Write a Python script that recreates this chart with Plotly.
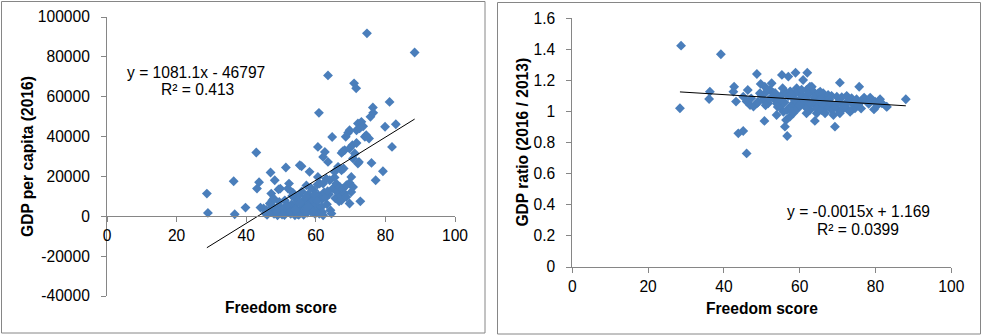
import plotly.graph_objects as go

# ---------------- data ----------------
score_a = [28.7, 29.0, 36.4, 36.7, 39.8, 42.9, 43.7, 43.1, 44.1, 45.0, 45.5, 46.0, 46.5, 47.0, 47.2,
           47.5, 46.8, 47.9, 48.2, 48.0, 48.5, 49.3, 49.8, 49.0, 49.6, 50.0, 50.6, 51.1, 51.4, 51.0,
           51.5, 52.0, 52.3, 52.5, 52.8, 53.0, 53.5, 53.8, 54.0, 54.3, 54.6, 55.0, 55.4, 55.9, 55.2,
           55.6, 56.0, 56.2, 56.5, 56.8, 57.0, 57.3, 57.5, 57.8, 58.0, 58.2, 58.5, 58.8, 59.0, 59.2,
           59.5, 59.8, 60.0, 60.2, 60.5, 60.6, 60.6, 60.9, 60.8, 61.1, 61.3, 61.6, 61.8, 62.1, 62.1,
           62.1, 62.4, 62.6, 63.0, 63.2, 63.5, 63.5, 63.8, 64.0, 64.2, 64.5, 64.7, 64.9, 65.4, 65.4,
           65.6, 65.9, 66.2, 66.4, 66.7, 66.9, 67.2, 67.4, 67.4, 67.4, 67.8, 67.8, 68.0, 68.3, 68.3,
           68.6, 68.8, 68.8, 69.3, 69.7, 69.7, 69.7, 69.7, 70.2, 70.2, 70.5, 70.7, 70.7, 71.0, 71.2,
           71.6, 71.7, 71.7, 72.1, 72.1, 72.4, 72.6, 72.8, 73.1, 73.6, 74.1, 74.5, 74.7, 75.3, 75.7,
           76.0, 76.4, 76.5, 77.2, 79.3, 79.9, 81.2, 81.9, 83.0, 88.4,
           45.8, 46.3, 47.6, 48.8, 49.5, 50.3, 51.8, 52.6, 53.2, 53.9, 54.8, 55.5, 56.4, 57.2, 58.3,
           59.1, 59.7, 60.4, 61.0, 61.9, 62.8, 63.4, 58.6, 57.7, 56.9, 55.1, 54.2, 53.4]
gdp_2016 = [11400, 1700, 17600, 1000, 4350, 32000, 17100, 13900, 4350, 3900, 1500, 800, 2500, 22000, 11400,
            8000, 6400, 8900, 18100, 1200, 3000, 13500, 13900, 500, 4700, 1800, 3900, 8000, 24500, 600,
            2000, 13900, 16400, 4500, 1200, 6000, 2800, 9500, 500, 4000, 7000, 1500, 25600, 25100, 10500,
            3000, 12500, 5500, 800, 8500, 3500, 15500, 1800, 11000, 6500, 22300, 2500, 9000, 4500, 8000,
            13000, 1200, 6000, 3900, 16000, 34800, 19700, 51900, 10500, 16400, 2500, 4700, 8500, 500, 16400,
            29800, 12000, 32300, 18900, 6000, 27300, 70700, 11000, 18100, 3000, 1350, 39800, 14000, 19500, 22300,
            9000, 16400, 12000, 24800, 7500, 14700, 10500, 23100, 31800, 8000, 32700, 13900, 24000, 33200, 11400,
            39900, 15600, 9700, 41900, 43200, 34000, 16700, 6400, 19700, 12200, 35700, 29000, 14700, 66700, 31500,
            64200, 36800, 43200, 46600, 26500, 27300, 44100, 7500, 47400, 45200, 39900, 40700, 91800, 39000, 49900,
            26800, 54600, 51900, 18100, 22600, 44900, 57400, 34800, 46200, 82200,
            3200, 1800, 5200, 2400, 7200, 900, 5800, 2200, 10200, 3400, 1100, 6800, 2600, 9800, 4200,
            2000, 10800, 7600, 1300, 2100, 9300, 12600, 14200, 4800, 2200, 700, 3300, 11800]

score_b = [28.7, 28.4, 39.2, 36.3, 36.1, 42.7, 42.5, 43.2, 46.3, 45.1, 46.0, 46.9, 47.8, 48.7, 43.8,
           45.1, 46.0, 48.7, 49.7, 50.8, 51.3, 49.5, 52.2, 52.6, 50.4, 51.7, 53.0, 53.9, 55.3, 56.1,
           50.7, 55.3, 57.0, 58.9, 62.0, 60.9, 54.8, 55.7, 56.6, 53.9, 56.4, 56.1, 56.7, 57.4, 58.3,
           60.1, 59.2, 61.0, 61.8, 63.2, 64.0, 65.4, 66.2, 67.1, 60.1, 61.4, 62.7, 64.0, 65.4, 66.7,
           59.2, 61.8, 64.5, 64.0, 70.6, 75.7, 88.0, 69.3, 62.7, 63.6, 64.9, 66.2, 67.5, 68.4, 69.8,
           71.1, 72.4, 73.7, 75.0, 76.4, 77.7, 79.0, 79.9, 81.2, 81.7, 82.9, 79.6, 75.7, 61.8, 63.2,
           64.5, 65.8, 67.1, 68.4, 69.8, 71.1, 72.4, 73.7, 74.6, 66.7, 68.9, 70.6, 73.3,
           47.2, 48.9, 50.0, 51.0, 52.0, 53.0, 54.0, 54.5, 55.0, 56.0, 57.0, 57.8, 58.5, 59.0, 59.6,
           60.4, 61.2, 62.2, 63.0, 57.5, 58.0, 59.5, 60.5, 61.5, 62.5, 55.5, 54.2, 57.8, 58.8, 59.9,
           63.8, 65.0, 66.0, 67.8, 69.0, 70.2, 71.5, 72.8, 74.0, 75.4, 76.8, 78.2, 80.5, 83.0, 77.0,
           81.0, 78.6, 76.2, 72.0, 68.0, 65.5, 53.5, 51.5, 49.0]
gdp_ratio = [1.424, 1.021, 1.369, 1.128, 1.081, 1.160, 1.128, 1.064, 1.139, 1.096, 1.064, 1.042, 1.032, 1.053, 0.860,
             0.875, 0.731, 1.242, 1.178, 1.160, 1.128, 1.118, 1.139, 1.182, 1.075, 1.053, 1.096, 1.064, 1.107, 1.128,
             0.940, 1.236, 1.225, 1.250, 1.250, 1.203, 1.032, 0.999, 1.010, 0.978, 0.946, 0.903, 0.843, 0.967, 0.989,
             1.118, 1.150, 1.096, 1.139, 1.160, 1.118, 1.128, 1.096, 1.075, 1.053, 1.032, 1.010, 1.042, 1.021, 1.032,
             1.032, 0.989, 0.989, 0.940, 1.186, 1.160, 1.079, 0.903, 1.160, 1.128, 1.118, 1.118, 1.107, 1.101, 1.096,
             1.092, 1.101, 1.086, 1.079, 1.070, 1.064, 1.070, 1.064, 1.079, 1.053, 1.032, 1.014, 1.053, 1.032, 1.053,
             1.021, 1.010, 1.032, 1.010, 1.021, 1.010, 1.021, 1.010, 1.021, 0.989, 0.978, 0.989, 0.999,
             1.085, 1.060, 1.100, 1.040, 1.080, 1.120, 1.050, 1.090, 1.070, 1.060, 1.100, 1.040, 1.080, 1.120, 1.060,
             1.090, 1.070, 1.110, 1.050, 1.130, 1.000, 1.020, 1.140, 1.080, 1.060, 1.150, 1.030, 1.110, 1.070, 1.040,
             1.090, 1.070, 1.050, 1.080, 1.040, 1.060, 1.040, 1.070, 1.050, 1.040, 1.080, 1.050, 1.040, 1.030, 1.090,
             1.060, 1.090, 1.020, 1.040, 1.060, 1.080, 1.120, 1.140, 1.060]

gdp_ticks = [-40000, -20000, 0, 20000, 40000, 60000, 80000, 100000]
gdp_tick_text = ["-40000", "-20000", "0", "20000", "40000", "60000", "80000", "100000"]
ratio_ticks = [0, 0.2, 0.4, 0.6, 0.8, 1.0, 1.2, 1.4, 1.6]
ratio_tick_text = ["0", "0.2", "0.4", "0.6", "0.8", "1", "1.2", "1.4", "1.6"]
score_ticks = [0, 20, 40, 60, 80, 100]

fit_a = (1081.1, -46797)
fit_b = (-0.0015, 1.169)
fit_a_text = ["y = 1081.1x - 46797", "R² = 0.413"]
fit_b_text = ["y = -0.0015x + 1.169", "R² = 0.0399"]

# ---------------- figure ----------------
W, H = 982, 336
FONT = "Arial, 'Liberation Sans', sans-serif"
FS = 15.6
MARK = "#4a7ebb"
AX = "#868686"

def px(x):
    return x / W

def py(y):
    return 1 - y / H

fig = go.Figure()

fig.add_trace(go.Scatter(x=score_a, y=gdp_2016, mode="markers", xaxis="x", yaxis="y",
                         marker=dict(symbol="diamond", size=7.6, color=MARK, line=dict(width=0))))
xa = [min(score_a), max(score_a)]
fig.add_trace(go.Scatter(x=xa, y=[fit_a[0] * v + fit_a[1] for v in xa], mode="lines",
                         xaxis="x", yaxis="y", line=dict(color="black", width=1)))

fig.add_trace(go.Scatter(x=score_b, y=gdp_ratio, mode="markers", xaxis="x2", yaxis="y2",
                         marker=dict(symbol="diamond", size=7.6, color=MARK, line=dict(width=0))))
xb = [min(score_b), max(score_b)]
fig.add_trace(go.Scatter(x=xb, y=[fit_b[0] * v + fit_b[1] for v in xb], mode="lines",
                         xaxis="x2", yaxis="y2", line=dict(color="black", width=1)))

tickfont = dict(family=FONT, size=FS, color="black")
common = dict(showgrid=False, zeroline=False, showline=True, linecolor=AX, linewidth=1,
              ticks="outside", ticklen=5, tickcolor=AX, tickwidth=1, tickfont=tickfont,
              fixedrange=True, automargin=False)

# left chart domains
ly0, ly1 = py(296), py(17)
lx0, lx1 = px(107), px(455)
zero_pos = ly0 + (40000 / 140000) * (ly1 - ly0)

# right chart domains
ry0, ry1 = py(267), py(18.3)
rx0, rx1 = px(572.3), px(951.3)

fig.update_layout(
    template="none",
    width=W, height=H, margin=dict(l=0, r=0, t=0, b=0, pad=0, autoexpand=False),
    paper_bgcolor="white", plot_bgcolor="white", showlegend=False,
    font=dict(family=FONT, size=FS, color="black"),
    xaxis=dict(domain=[lx0, lx1], range=[0, 100], tickvals=score_ticks, anchor="free",
               position=zero_pos, ticklabelstandoff=0, **common),
    yaxis=dict(domain=[ly0, ly1], range=[-40000, 100000], tickvals=gdp_ticks,
               ticktext=gdp_tick_text, anchor="x", ticklabelstandoff=8, **common),
    xaxis2=dict(domain=[rx0, rx1], range=[0, 100], tickvals=score_ticks, anchor="y2",
                ticklabelstandoff=0, **common),
    yaxis2=dict(domain=[ry0, ry1], range=[0, 1.6], tickvals=ratio_ticks,
                ticktext=ratio_tick_text, anchor="x2", ticklabelstandoff=8, **common),
)

ann_font = dict(family=FONT, size=FS, color="black")
annotations = [
    dict(text=fit_a_text[0], x=px(196), y=py(72)),
    dict(text=fit_a_text[1], x=px(197), y=py(90)),
    dict(text=fit_b_text[0], x=px(858), y=py(211)),
    dict(text=fit_b_text[1], x=px(857.5), y=py(229)),
    dict(text="<b>Freedom score</b>", x=px(281), y=py(307)),
    dict(text="<b>Freedom score</b>", x=px(762), y=py(308)),
    dict(text="<b>GDP per capita (2016)</b>", x=px(27), y=py(157), textangle=-90),
    dict(text="<b>GDP ratio (2016 / 2013)</b>", x=px(523), y=py(142.6), textangle=-90),
]
for a in annotations:
    a.update(xref="paper", yref="paper", xanchor="center", yanchor="middle",
             showarrow=False, font=ann_font)
fig.update_layout(annotations=annotations)

fig.update_layout(shapes=[
    dict(type="rect", xref="paper", yref="paper", x0=px(1.5), x1=px(485), y0=py(333), y1=py(1.5),
         line=dict(color=AX, width=1), fillcolor="rgba(0,0,0,0)"),
    dict(type="rect", xref="paper", yref="paper", x0=px(497.5), x1=px(980.5), y0=py(334), y1=py(2.5),
         line=dict(color=AX, width=1), fillcolor="rgba(0,0,0,0)"),
])

fig.write_html("out.html")
